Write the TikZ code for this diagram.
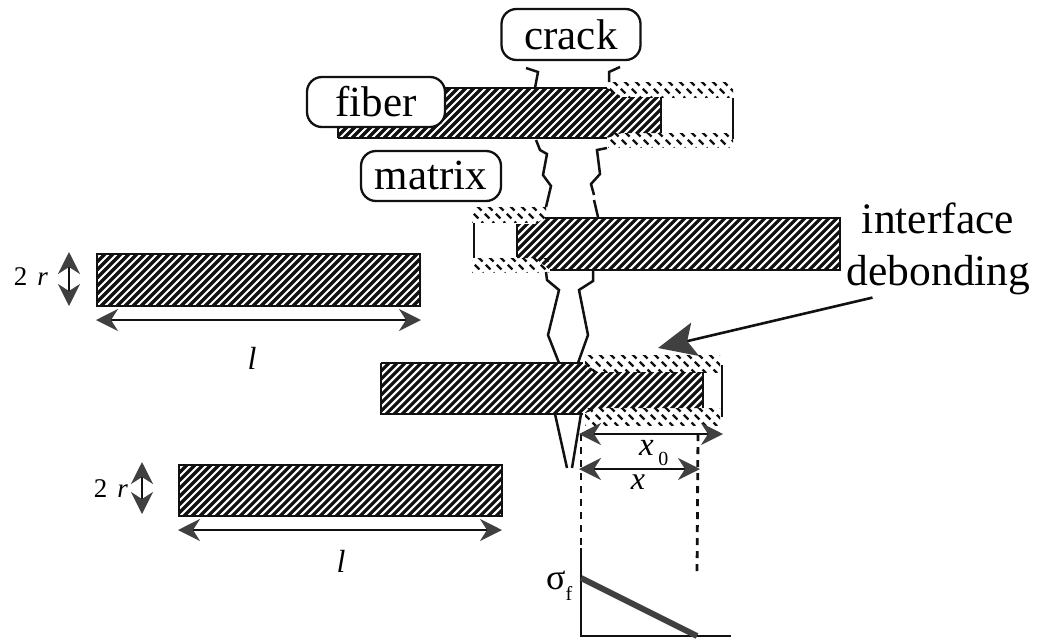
\documentclass[tikz,border=0pt]{standalone}
\usepackage{fontspec}
\setmainfont{Liberation Serif}
\usetikzlibrary{arrows.meta}
\definecolor{ink}{HTML}{111111}
\definecolor{headgray}{HTML}{404040}
\tikzset{
  x=1pt,y=-1pt,
  edge/.style={draw=ink,line width=2.6pt,line join=miter},
  crackline/.style={draw=ink,line width=2.5pt,line join=miter},
  thin edge/.style={draw=ink,line width=2.2pt},
  tag/.style={draw=ink,fill=white,line width=2.3pt,rounded corners=15pt,inner sep=0pt,font=\fontsize{43}{43}\selectfont},
  bigtext/.style={inner sep=0pt,anchor=base,font=\fontsize{43.5}{43.5}\selectfont},
  smalltext/.style={inner sep=0pt,anchor=base,font=\fontsize{27}{27}\selectfont},
  dim/.style={draw=ink,line width=2.2pt,{Stealth[length=22pt,width=22pt,inset=7pt,color=headgray]}-{Stealth[length=22pt,width=22pt,inset=7pt,color=headgray]}},
  guide/.style={draw=ink,line width=2.8pt,dash pattern=on 7pt off 6pt},
}
% stripes of a fibre: #1,#2 = x and y of upper left, #3,#4 = lower right, #5 = clip path
\newcommand{\fibrestripes}[5]{%
  \begin{scope}
    \clip #5;
    \pgfmathsetmacro{\hh}{#4-#2}
    \pgfmathtruncatemacro{\xa}{#1}
    \pgfmathtruncatemacro{\xb}{#1+8}
    \pgfmathtruncatemacro{\xc}{#3+\hh+8}
    \foreach \i in {\xa,\xb,...,\xc}
      \draw[ink,line width=3.2pt] (\i,#2) -- ++(-\hh,\hh);
  \end{scope}}
% broken marks of the debonded interface
\newcommand{\bandmarks}[4]{%
  \begin{scope}
    \clip (#1,#2) rectangle (#3,#4);
    \pgfmathsetmacro{\hh}{#4-#2+2}
    \pgfmathtruncatemacro{\xa}{#1-\hh-11}
    \pgfmathtruncatemacro{\xb}{#1-\hh}
    \pgfmathtruncatemacro{\xc}{#3+11}
    \foreach \i in {\xa,\xb,...,\xc}
      \draw[ink,line width=2.2pt,dash pattern=on 6.5pt off 4.5pt] (\i,#2-1) -- ++(\hh,\hh);
  \end{scope}}
\begin{document}
\begin{tikzpicture}
\useasboundingbox (0,0) rectangle (1038,643);

% ---------- left specimens
\fibrestripes{97}{254}{420}{306}{(97,254) rectangle (420,306)}
\draw[edge] (97,254) rectangle (420,306);
\fibrestripes{179}{465}{502}{516}{(179,465) rectangle (502,516)}
\draw[edge] (179,465) rectangle (502,516);

\coordinate (la1) at (96,320); \coordinate (la2) at (421,320);
\draw[dim] (la1) -- (la2);
\node[smalltext,font=\fontsize{32}{32}\selectfont\itshape] (l1) at (252,369) {l};
\coordinate (ra1) at (69,252); \coordinate (ra2) at (69,306);
\draw[dim] (ra1) -- (ra2);
\node[smalltext] (tworA) at (31,285) {2\hspace{10pt}\textit{r}};

\coordinate (lb1) at (178,530); \coordinate (lb2) at (502,530);
\draw[dim] (lb1) -- (lb2);
\node[smalltext,font=\fontsize{32}{32}\selectfont\itshape] (l2) at (341,572) {l};
\coordinate (rb1) at (142,462); \coordinate (rb2) at (142,514);
\draw[dim] (rb1) -- (rb2);
\node[smalltext] (tworB) at (111,497) {2\hspace{10pt}\textit{r}};

% ---------- top fibre
\fibrestripes{338}{88}{661}{138}{(338,88) -- (607,88) -- (622,97) -- (661,97) -- (661,133) -- (622,133) -- (607,138) -- (338,138) -- cycle}
\draw[edge] (338,138) -- (607,138);
\draw[edge] (338,138) -- (338,125);
\draw[edge] (440,88) -- (607,88);
\draw[edge] (661,97) -- (661,133);
\bandmarks{608}{82}{733}{97}
\bandmarks{608}{133}{733}{147}
\draw[thin edge] (733,98) -- (733,139);

\draw[crackline] (526,68) -- (538,72) -- (535,88);
\draw[crackline] (620,67) -- (609,72) -- (609,82);
\draw[crackline] (536,140) -- (540,150) -- (547,154) -- (543,175) -- (551,186) -- (546,207);
\draw[crackline] (607,148) -- (597,150) -- (600,174) -- (591,184) -- (594,195);
\draw[crackline] (594,200) -- (598,217);

% ---------- middle fibre
\fibrestripes{517}{218}{840}{270}{(545,218) -- (840,218) -- (840,270) -- (550,270) -- (535,258) -- (517,258) -- (517,224) -- (535,224) -- cycle}
\draw[edge] (545,218) -- (840,218) -- (840,270) -- (550,270);
\draw[edge] (517,224) -- (517,257);
\bandmarks{472}{207}{546}{222}
\bandmarks{472}{258}{549}{272}
\draw[thin edge] (474,223) -- (474,258);

\draw[crackline] (546,272) -- (547,280) -- (559,290) -- (548,335) -- (559,363);
\draw[crackline] (593,270) -- (593,281) -- (579,290) -- (588,335) -- (578,363);

% ---------- lower fibre
\fibrestripes{381}{363}{703}{414}{(381,363) -- (583,363) -- (598,372) -- (703,372) -- (703,408) -- (598,408) -- (583,414) -- (381,414) -- cycle}
\draw[edge] (381,363) -- (583,363);
\draw[edge] (381,363) -- (381,414) -- (583,414);
\draw[edge] (703,372) -- (703,408);
\bandmarks{585}{355}{720}{372}
\bandmarks{585}{408}{720}{425}
\draw[thin edge] (722,365) -- (722,417);

\draw[crackline] (555,414) -- (567,468);
\draw[crackline] (581,414) -- (572,468);

% ---------- dimensions and guides
\coordinate (g1) at (581,434); \coordinate (g2) at (581,548);
\coordinate (g3) at (698,434); \coordinate (g4) at (697,575);
\draw[guide] (g1) -- (g2);
\draw[guide] (g3) -- (g4);
\coordinate (xo1) at (579,434); \coordinate (xo2) at (723,434);
\draw[dim] (xo1) -- (xo2);
\coordinate (xs1) at (579,469); \coordinate (xs2) at (700,469);
\draw[dim] (xs1) -- (xs2);
\node[inner sep=0pt,anchor=base west,font=\fontsize{33}{33}\selectfont] (xzero) at (639,455) {\textit{x}\hspace{4.5pt}\raisebox{-10pt}{\fontsize{20}{20}\selectfont 0}};
\node[inner sep=0pt,anchor=base,font=\fontsize{32}{32}\selectfont\itshape] (xlabel) at (638,489) {x};

% ---------- stress plot
\coordinate (o) at (581,636); \coordinate (ytop) at (581,548); \coordinate (xend) at (731,636);
\draw[ink,line width=2.4pt] (ytop) -- (o) -- (xend);
\coordinate (s1) at (581,578); \coordinate (s2) at (697,636);
\draw[headgray,line width=6pt] (s1) -- (s2);
\node[inner sep=0pt,anchor=base west,font=\fontsize{36}{36}\selectfont] (sigma) at (546,589) {σ\raisebox{-11pt}{\fontsize{20}{20}\selectfont f}};

% ---------- labels
\node[tag,minimum width=139pt,minimum height=51pt] (crack) at (571,34.5) {\raisebox{-1pt}{crack}};
\node[tag,minimum width=138pt,minimum height=50pt] (fiber) at (376,102) {\raisebox{-2pt}{fiber}};
\node[tag,minimum width=140pt,minimum height=50pt] (matrix) at (431,176) {\raisebox{1pt}{matrix}};
\node[bigtext] (interface) at (938,233) {interface};
\node[bigtext] (debonding) at (938.5,285) {debonding};
\coordinate (from) at ([xshift=26pt,yshift=-3pt]debonding.south west);
\coordinate (tip) at (658,348);
\draw[ink,line width=2.6pt,-{Stealth[length=38pt,width=34pt,inset=8pt,color=headgray]}] (from) -- (tip);
\end{tikzpicture}
\end{document}
